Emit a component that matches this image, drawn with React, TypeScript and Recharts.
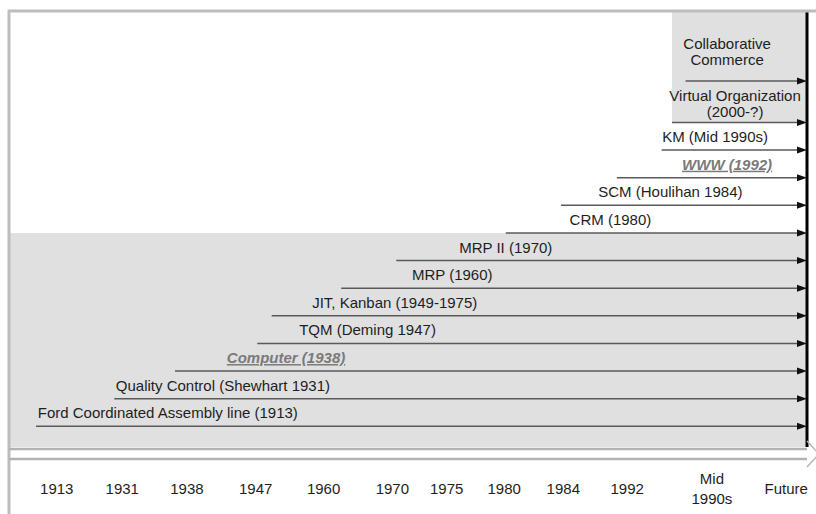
import { ComposedChart, XAxis, YAxis, ReferenceArea, ReferenceLine, Scatter } from 'recharts'

// Timeline position units: 0 = left edge of the frame, 100 = "Future" line
const tickLabels = ['1913', '1931', '1938', '1947', '1960', '1970', '1975', '1980', '1984', '1992', 'Mid 1990s', 'Future']
const tickPositions = [6.1, 14.3, 22.4, 31.0, 39.5, 48.1, 54.9, 62.1, 69.5, 77.5, 88.1, 97.4]

const eventLabels = [
  'Ford Coordinated Assembly line (1913)',
  'Quality Control (Shewhart 1931)',
  'Computer (1938)',
  'TQM (Deming 1947)',
  'JIT, Kanban (1949-1975)',
  'MRP (1960)',
  'MRP II (1970)',
  'CRM (1980)',
  'SCM (Houlihan 1984)',
  'WWW (1992)',
  'KM (Mid 1990s)',
  'Virtual Organization\n(2000-?)',
  'Collaborative\nCommerce',
]
const eventStarts = [3.5, 13.3, 20.9, 31.2, 33.0, 41.7, 48.6, 62.3, 69.2, 76.2, 81.8, 83.1, 84.8]
const eventLevels = [0, 1, 2, 3, 4, 5, 6, 7, 8, 9, 10, 11, 12.5]
const labelCenters = [20.0, 26.9, 34.8, 45.0, 48.4, 55.6, 62.3, 75.4, 82.9, 90.0, 88.5, 91.0, 90.0]
const labelLevels = [0.29, 1.29, 2.29, 3.29, 4.29, 5.29, 6.29, 7.29, 8.29, 9.29, 10.29, 11.2, 13.08]
// technology milestones, drawn grey / italic / underlined
const techEvents = ['Computer (1938)', 'WWW (1992)']

const FUTURE = 100
const SHADED_UNTIL = 7 // lower shaded band reaches the CRM row
const FONT = '"Liberation Sans", Arial, sans-serif'

const labelData = eventLabels.map((name, i) => ({
  name,
  x: labelCenters[i],
  y: labelLevels[i],
}))

function ArrowShape(props: any) {
  const { x1, y1, x2, y2 } = props
  return (
    <g>
      <line x1={x1} y1={y1} x2={x2 - 6} y2={y2} stroke="#5a5a5a" strokeWidth={1.5} />
      <polygon points={`${x2 - 10},${y2 - 3.5} ${x2},${y2} ${x2 - 10},${y2 + 3.5}`} fill="#111" />
    </g>
  )
}

function EventLabel(props: any) {
  const { cx, cy, payload } = props
  const lines: string[] = payload.name.split('\n')
  const tech = techEvents.includes(payload.name)
  return (
    <g>
      {lines.map((line, i) => (
        <text
          key={i}
          x={cx}
          y={cy - (lines.length - 1 - i) * 16}
          textAnchor="middle"
          fontFamily={FONT}
          fontSize={15}
          fill={tech ? '#7a7a7a' : '#1e1e1e'}
          fontStyle={tech ? 'italic' : 'normal'}
          fontWeight={tech ? 'bold' : 'normal'}
          textDecoration={tech ? 'underline' : 'none'}
        >
          {line}
        </text>
      ))}
    </g>
  )
}

function TimeTick(props: any) {
  const { x, y, payload } = props
  const idx = tickPositions.indexOf(payload.value)
  const lines = (tickLabels[idx] ?? '').split(' ')
  return (
    <g>
      {lines.map((line, i) => (
        <text
          key={i}
          x={x}
          y={y + (lines.length === 1 ? 47 : 37 + i * 20)}
          textAnchor="middle"
          fontFamily={FONT}
          fontSize={15}
          fill="#1e1e1e"
        >
          {line}
        </text>
      ))}
    </g>
  )
}

export default function App() {
  return (
    <div style={{ position: 'absolute', left: 0, top: 0, width: 816, height: 514, background: '#fff' }}>
      <ComposedChart
        width={816}
        height={514}
        data={labelData}
        margin={{ top: 12, right: 9, left: 8, bottom: 7 }}
      >
        <XAxis
          type="number"
          dataKey="x"
          domain={[0, FUTURE]}
          ticks={tickPositions}
          interval={0}
          height={60}
          axisLine={false}
          tickLine={false}
          tickSize={0}
          tickMargin={0}
          tick={<TimeTick />}
        />
        <YAxis type="number" dataKey="y" domain={[-0.75, 15]} hide allowDataOverflow />
        <ReferenceArea x1={0} x2={FUTURE} y1={-0.75} y2={SHADED_UNTIL} fill="#e0e0e0" fillOpacity={1} stroke="none" />
        <ReferenceArea
          x1={eventStarts[11]}
          x2={FUTURE}
          y1={eventLevels[11]}
          y2={15}
          fill="#e0e0e0"
          fillOpacity={1}
          stroke="none"
        />
        {eventLabels.map((name, i) => (
          <ReferenceLine
            key={name}
            segment={[
              { x: eventStarts[i], y: eventLevels[i] },
              { x: FUTURE, y: eventLevels[i] },
            ]}
            shape={ArrowShape}
          />
        ))}
        <ReferenceLine x={FUTURE} stroke="#000" strokeWidth={3} />
        <Scatter dataKey="y" isAnimationActive={false} shape={(p: any) => <EventLabel {...p} />} />
      </ComposedChart>
      <svg width={816} height={514} style={{ position: 'absolute', left: 0, top: 0, pointerEvents: 'none' }}>
        <line x1={8} y1={11} x2={816} y2={11} stroke="#bdbdbd" strokeWidth={3} />
        <line x1={9} y1={10} x2={9} y2={514} stroke="#bdbdbd" strokeWidth={3} />
        <line x1={9} y1={449} x2={807} y2={449} stroke="#b3b3b3" strokeWidth={2.5} />
        <line x1={9} y1={459} x2={807} y2={459} stroke="#b3b3b3" strokeWidth={2.5} />
        <polyline points="807,441 819,454 807,467" fill="none" stroke="#b3b3b3" strokeWidth={1.5} />
      </svg>
    </div>
  )
}
